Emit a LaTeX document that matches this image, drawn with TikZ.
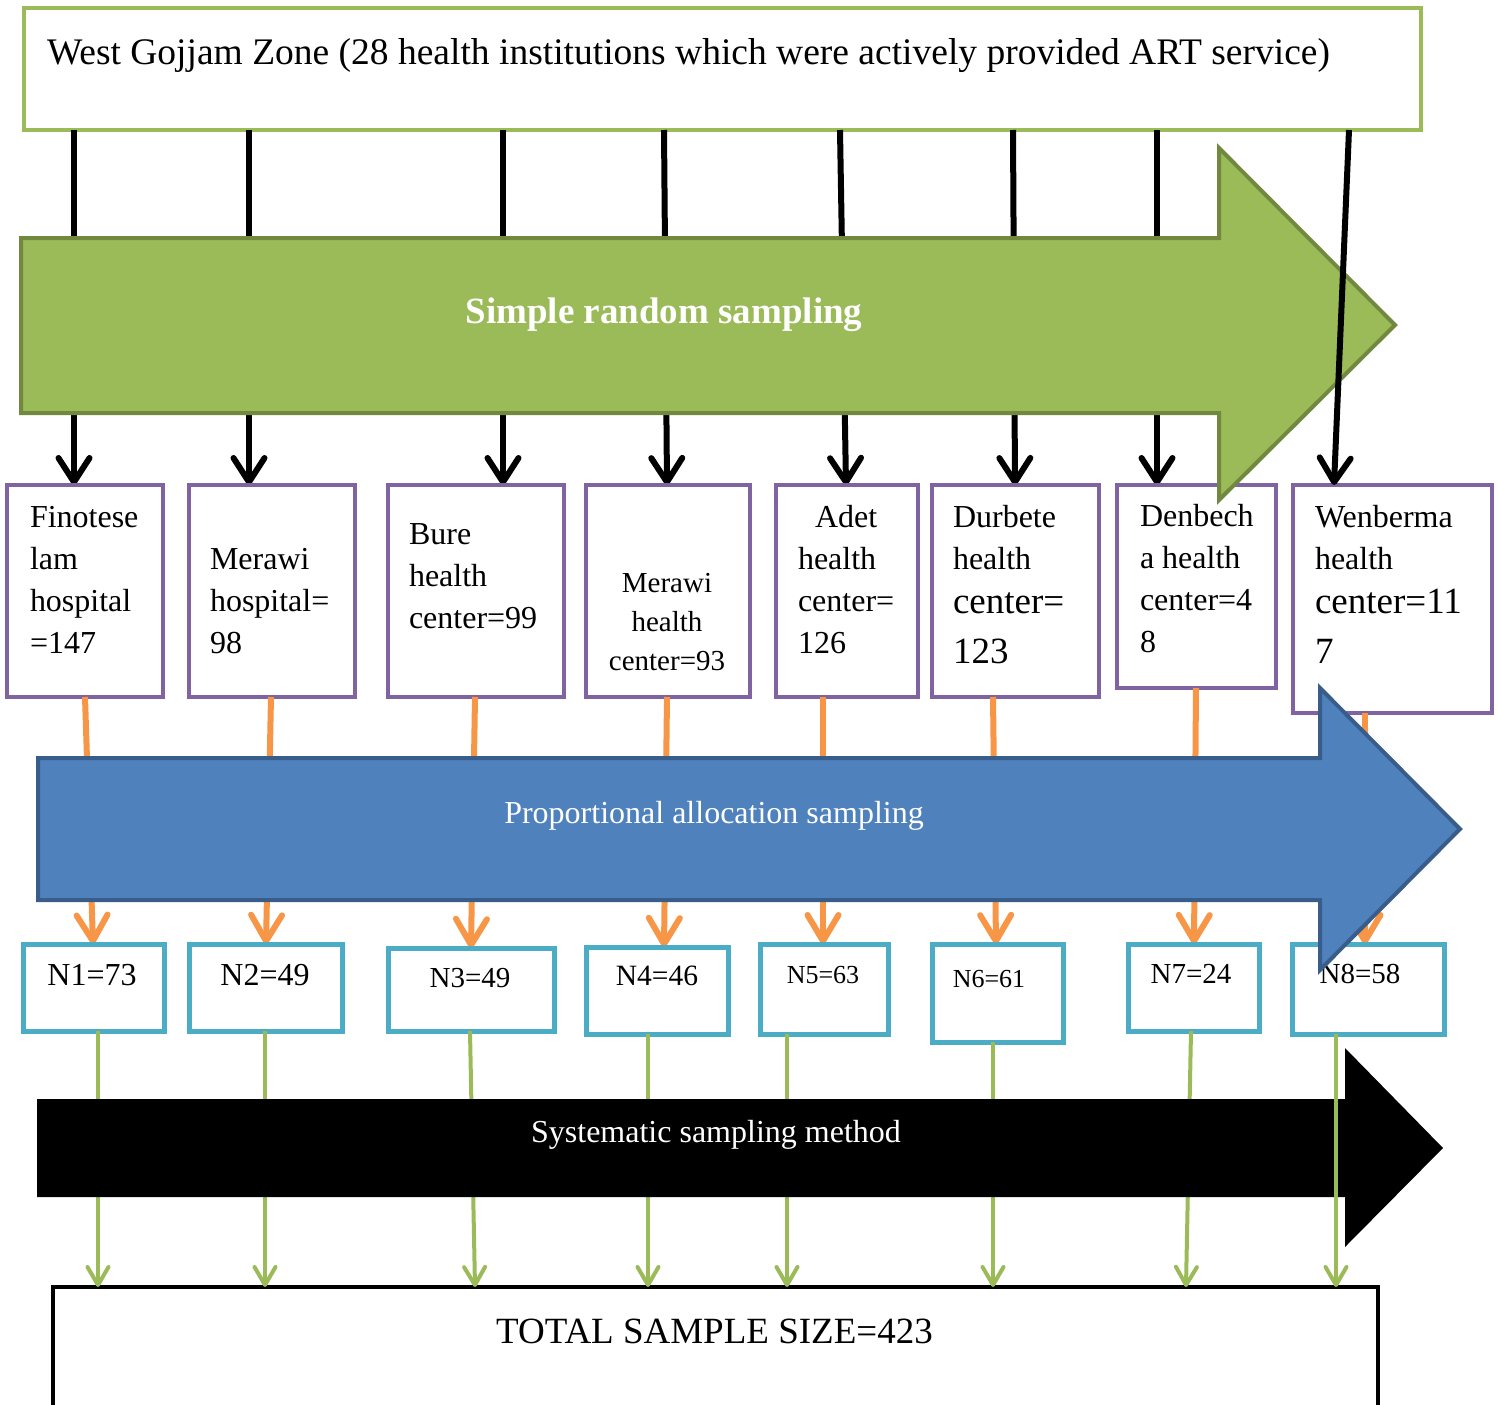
\documentclass[tikz,border=0pt]{standalone}
\usepackage{fontspec}
\setmainfont{Liberation Serif}
\usetikzlibrary{arrows.meta}
\definecolor{gfill}{HTML}{9BBB59}
\definecolor{gdark}{HTML}{71893F}
\definecolor{purp}{HTML}{8064A2}
\definecolor{oran}{HTML}{F79646}
\definecolor{bfill}{HTML}{4F81BD}
\definecolor{bdark}{HTML}{385D8A}
\definecolor{cyanb}{HTML}{4BACC6}
\tikzset{
  box/.style={rectangle, inner sep=0pt, outer sep=0pt, fill=white},
  topbox/.style={box, draw=gfill, line width=4},
  pbox/.style={box, draw=purp, line width=4},
  nbox/.style={box, draw=cyanb, line width=5},
  totbox/.style={box, draw=black, line width=4},
  txt/.style={inner sep=0pt, outer sep=0pt, align=left, anchor=base west, font=\fontsize{32}{42}\selectfont},
  bigtxt/.style={txt, font=\fontsize{37}{50}\selectfont},
  ntxt/.style={inner sep=0pt, outer sep=0pt, anchor=base, font=\fontsize{#1}{#1}\selectfont},
  arrtxt/.style={inner sep=0pt, outer sep=0pt, anchor=base, text=white, font=\fontsize{#1}{#1}\selectfont},
  bigarrow/.style={line width=4, line join=miter},
  blkarr/.style={draw=black, line width=6, -{Straight Barb[length=24pt,width=31pt,round]}},
  orarr/.style={draw=oran, line width=6, -{Straight Barb[length=26pt,width=31pt,round]}},
  grarr/.style={draw=gfill, line width=4, -{Straight Barb[length=18pt,width=21pt,round]}},
}
\begin{document}
\begin{tikzpicture}[x=1pt,y=-1pt]
\useasboundingbox (0,0) rectangle (1497,1405);
\clip (0,0) rectangle (1497,1405);

% top box
\node[topbox, minimum width=1397, minimum height=122] (top) at (722.5,69) {};
\node[txt, font=\fontsize{37.5}{44}\selectfont] (toptxt) at (47,65) {West Gojjam Zone (28 health institutions which were actively provided ART service)};

% black connectors (behind green arrow)
\draw[blkarr] (top.south -| 74,0) -- (74,485) coordinate (e1);
\draw[blkarr] (top.south -| 249,0) -- (249,485) coordinate (e2);
\draw[blkarr] (top.south -| 503,0) -- (503,485) coordinate (e3);
\draw[blkarr] (top.south -| 664,0) -- (667,485) coordinate (e4);
\draw[blkarr] (top.south -| 840,0) -- (846,485) coordinate (e5);
\draw[blkarr] (top.south -| 1013,0) -- (1015,485) coordinate (e6);
\draw[blkarr] (top.south -| 1157,0) -- (1157,485) coordinate (e7);

% purple boxes
\node[pbox, minimum width=156, minimum height=212] (b1) at (85,591) {};
\node[pbox, minimum width=166, minimum height=212] (b2) at (272,591) {};
\node[pbox, minimum width=176, minimum height=212] (b3) at (476,591) {};
\node[pbox, minimum width=164, minimum height=212] (b4) at (668,591) {};
\node[pbox, minimum width=142, minimum height=212] (b5) at (847,591) {};
\node[pbox, minimum width=167, minimum height=212] (b6) at (1015.5,591) {};
\node[pbox, minimum width=159, minimum height=203] (b7) at (1196.5,586.5) {};
\node[pbox, minimum width=199, minimum height=228] (b8) at (1392.5,599) {};

% text nodes: base anchor is the baseline of the last line
\node[txt] (t1) at (30,653) {Finotese\\lam\\hospital\\=147};
\node[txt] (t2) at (210,653) {Merawi\\hospital=\\98};
\node[txt] (t3) at (409,628) {Bure\\health\\center=99};
\node[txt, align=center, anchor=base, font=\fontsize{29}{39}\selectfont] (t4) at (667,670) {Merawi\\health\\center=93};
\node[txt] (t5) at (798,653) {\hspace*{17pt}Adet\\health\\center=\\126};
\node[txt] (t6a) at (953,569) {Durbete\\health};
\node[bigtxt] (t6b) at (953,663) {center=\\123};
\node[txt] (t7) at (1140,652) {Denbech\\a health\\center=4\\8};
\node[txt] (t8a) at (1315,569) {Wenberma\\health};
\node[bigtxt] (t8b) at (1315,663) {center=11\\7};

% green arrow
\draw[bigarrow, draw=gdark, fill=gfill] (21,238) -- (1219,238) -- (1219,148) -- (1395,325) -- (1219,500) -- (1219,413) -- (21,413) -- cycle;
\node[arrtxt=37, font=\fontsize{37}{37}\selectfont\bfseries] (srs) at (664,323) {Simple random sampling};

% black connector in front of green arrow
\draw[blkarr] (top.south -| 1349,0) -- (b8.north -| 1334,0);

% orange connectors
\draw[orarr] (b1.south -| 85,0) -- (93,944) coordinate (o1);
\draw[orarr] (b2.south -| 271,0) -- (266,944) coordinate (o2);
\draw[orarr] (b3.south -| 475,0) -- (471,948) coordinate (o3);
\draw[orarr] (b4.south -| 667,0) -- (664,947) coordinate (o4);
\draw[orarr] (b5.south -| 823,0) -- (823,944) coordinate (o5);
\draw[orarr] (b6.south -| 993,0) -- (996,944) coordinate (o6);
\draw[orarr] (b7.south -| 1196,0) -- (1194,944) coordinate (o7);
\draw[orarr] (b8.south -| 1365,0) -- (1365,944) coordinate (o8);

% N boxes
\node[nbox, minimum width=141, minimum height=87] (n1) at (93.5,987.5) {};
\node[nbox, minimum width=153, minimum height=87] (n2) at (265.5,987.5) {};
\node[nbox, minimum width=166, minimum height=83] (n3) at (471,989.5) {};
\node[nbox, minimum width=142, minimum height=87] (n4) at (657,990.5) {};
\node[nbox, minimum width=128, minimum height=90] (n5) at (824,989) {};
\node[nbox, minimum width=131, minimum height=98] (n6) at (997.5,993) {};
\node[nbox, minimum width=131, minimum height=87] (n7) at (1193.5,987.5) {};
\node[nbox, minimum width=152, minimum height=90] (n8) at (1368,989) {};

\node[ntxt=32] (m1) at (92,985) {N1=73};
\node[ntxt=32] (m2) at (265,985) {N2=49};
\node[ntxt=29] (m3) at (470,987) {N3=49};
\node[ntxt=29.5] (m4) at (657,985) {N4=46};
\node[ntxt=26] (m5) at (823,983) {N5=63};
\node[ntxt=26] (m6) at (989,987) {N6=61};
\node[ntxt=29] (m7) at (1191,983) {N7=24};
\node[ntxt=29] (m8) at (1360,983) {N8=58};

% blue arrow
\draw[bigarrow, draw=bdark, fill=bfill] (38,758) -- (1320,758) -- (1320,688) -- (1460,829) -- (1320,970) -- (1320,900) -- (38,900) -- cycle;
\node[arrtxt=32] (pas) at (714,823) {Proportional allocation sampling};

% total box
\node[totbox, minimum width=1325, minimum height=133] (tot) at (715.5,1353.5) {};
\node[ntxt=37] (tottxt) at (714.5,1343) {TOTAL SAMPLE SIZE=423};

% green connectors (behind black arrow)
\draw[grarr] (n1.south -| 98,0) -- (tot.north -| 98,0);
\draw[grarr] (n2.south -| 265,0) -- (tot.north -| 265,0);
\draw[grarr] (n3.south -| 470,0) -- (tot.north -| 475,0);
\draw[grarr] (n4.south -| 648,0) -- (tot.north -| 648,0);
\draw[grarr] (n5.south -| 787,0) -- (tot.north -| 787,0);
\draw[grarr] (n6.south -| 993,0) -- (tot.north -| 993,0);
\draw[grarr] (n7.south -| 1191,0) -- (tot.north -| 1186,0);

% black arrow
\fill[black] (37,1099) -- (1345,1099) -- (1345,1048) -- (1443,1148) -- (1345,1247) -- (1345,1197) -- (37,1197) -- cycle;
\node[arrtxt=32] (ssm) at (716,1142) {Systematic sampling method};

% green connector in front of black arrow
\draw[grarr] (n8.south -| 1336,0) -- (tot.north -| 1336,0);
\end{tikzpicture}
\end{document}
